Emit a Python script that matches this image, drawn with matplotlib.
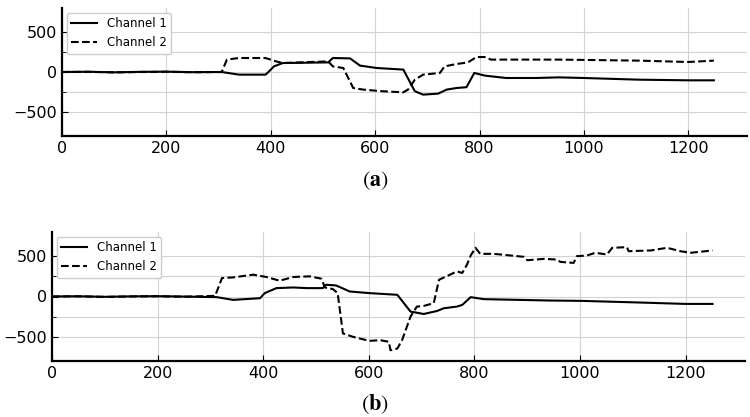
import matplotlib
matplotlib.use("Agg")
import matplotlib.pyplot as plt
from matplotlib.ticker import MultipleLocator, FixedLocator

plt.rcParams['mathtext.fontset'] = 'stix'

# Panel (a)
a_ch1_x = [0, 50, 100, 150, 200, 250, 306, 339, 390, 397, 406, 423, 510, 519, 552, 571, 603,
           654, 676, 692, 721, 737, 756, 775, 790, 810, 851, 908, 952, 1000, 1106, 1200, 1249]
a_ch1_y = [0, 3, -4, 2, 4, -2, 0, -33, -33, 10, 70, 112, 120, 175, 170, 80, 50,
           30, -240, -283, -270, -220, -200, -190, -12, -45, -75, -75, -67, -75, -96, -104, -104]
a_ch2_x = [0, 50, 100, 150, 200, 250, 306, 316, 339, 390, 410, 423, 510, 519, 539, 558, 577, 613,
           654, 663, 676, 692, 724, 733, 756, 778, 794, 810, 822, 952, 1106, 1200, 1249]
a_ch2_y = [0, 2, -5, 0, 3, -3, 0, 155, 175, 175, 133, 112, 133, 70, 50, -200, -220, -240,
           -254, -220, -96, -33, -12, 70, 100, 120, 187, 187, 155, 155, 142, 125, 142]

# Panel (b)
b_ch1_x = [0, 50, 100, 150, 200, 243, 312, 343, 394, 403, 425, 457, 482, 513, 519, 538, 564, 601,
           654, 679, 704, 729, 742, 767, 777, 793, 818, 944, 1001, 1115, 1200, 1251]
b_ch1_y = [0, 3, -4, 2, 4, 0, -8, -42, -21, 42, 104, 112, 104, 104, 146, 137, 62, 42,
           21, -187, -217, -180, -146, -125, -104, -8, -33, -50, -54, -75, -92, -92]
b_ch2_x = [0, 50, 100, 150, 200, 250, 309, 322, 343, 381, 406, 431, 457, 488, 510, 517, 532, 541,
           551, 570, 601, 622, 638, 641, 654, 663, 679, 691, 704, 723, 733, 754, 767, 777, 786,
           793, 802, 811, 837, 894, 900, 932, 956, 963, 988, 994, 1013, 1029, 1051, 1061, 1089,
           1092, 1134, 1165, 1190, 1209, 1251]
b_ch2_y = [0, 2, -5, 0, 3, -3, 8, 229, 237, 271, 242, 196, 242, 250, 221, 112, 92, 42,
           -458, -500, -550, -542, -562, -667, -646, -542, -250, -125, -117, -83, 208, 271, 312, 292, 396,
           508, 604, 529, 529, 492, 450, 467, 458, 429, 417, 500, 508, 542, 521, 604, 612,
           562, 571, 604, 562, 542, 571]

labels = ["Channel 1", "Channel 2"]
panel_labels = ["a", "b"]
y_minor = [-250, 250]

fig = plt.figure(figsize=(7.5, 4.17), dpi=100)
ax_a = fig.add_axes([62/750, 1-136/417, (747-62)/750, (136-8)/417])
ax_b = fig.add_axes([52/750, 1-361/417, (745-52)/750, (361-232)/417])

panels = [(ax_a, a_ch1_x, a_ch1_y, a_ch2_x, a_ch2_y),
          (ax_b, b_ch1_x, b_ch1_y, b_ch2_x, b_ch2_y)]

for ax, x1, y1, x2, y2 in panels:
    ax.plot(x1, y1, color='black', lw=1.5, ls='-', label=labels[0])
    ax.plot(x2, y2, color='black', lw=1.5, ls='--', label=labels[1])
    ax.set_xlim(0, 1312.5)
    ax.set_ylim(-800, 800)
    ax.xaxis.set_major_locator(MultipleLocator(200))
    ax.yaxis.set_major_locator(MultipleLocator(500))
    ax.yaxis.set_minor_locator(FixedLocator(y_minor))
    ax.grid(True, which='major', color='#d3d3d3', lw=0.8)
    ax.grid(True, which='minor', axis='y', color='#d3d3d3', lw=0.8)
    ax.set_axisbelow(True)
    ax.tick_params(direction='in', which='both', labelsize=11.5, colors='black')
    ax.tick_params(which='major', length=4)
    ax.tick_params(which='minor', length=3)
    for s in ['top', 'right']:
        ax.spines[s].set_visible(False)
    for s in ['left', 'bottom']:
        ax.spines[s].set_linewidth(1.6)
    ax.legend(loc='upper left', fontsize=8.5, framealpha=1, edgecolor='#cccccc',
              borderaxespad=0.4, handlelength=2.2)

fig.text(375/750, 1-181/417, r'$(\mathbf{%s})$' % panel_labels[0], ha='center', va='center', fontsize=16)
fig.text(375/750, 1-404/417, r'$(\mathbf{%s})$' % panel_labels[1], ha='center', va='center', fontsize=16)

fig.savefig("out.png", dpi=100)
